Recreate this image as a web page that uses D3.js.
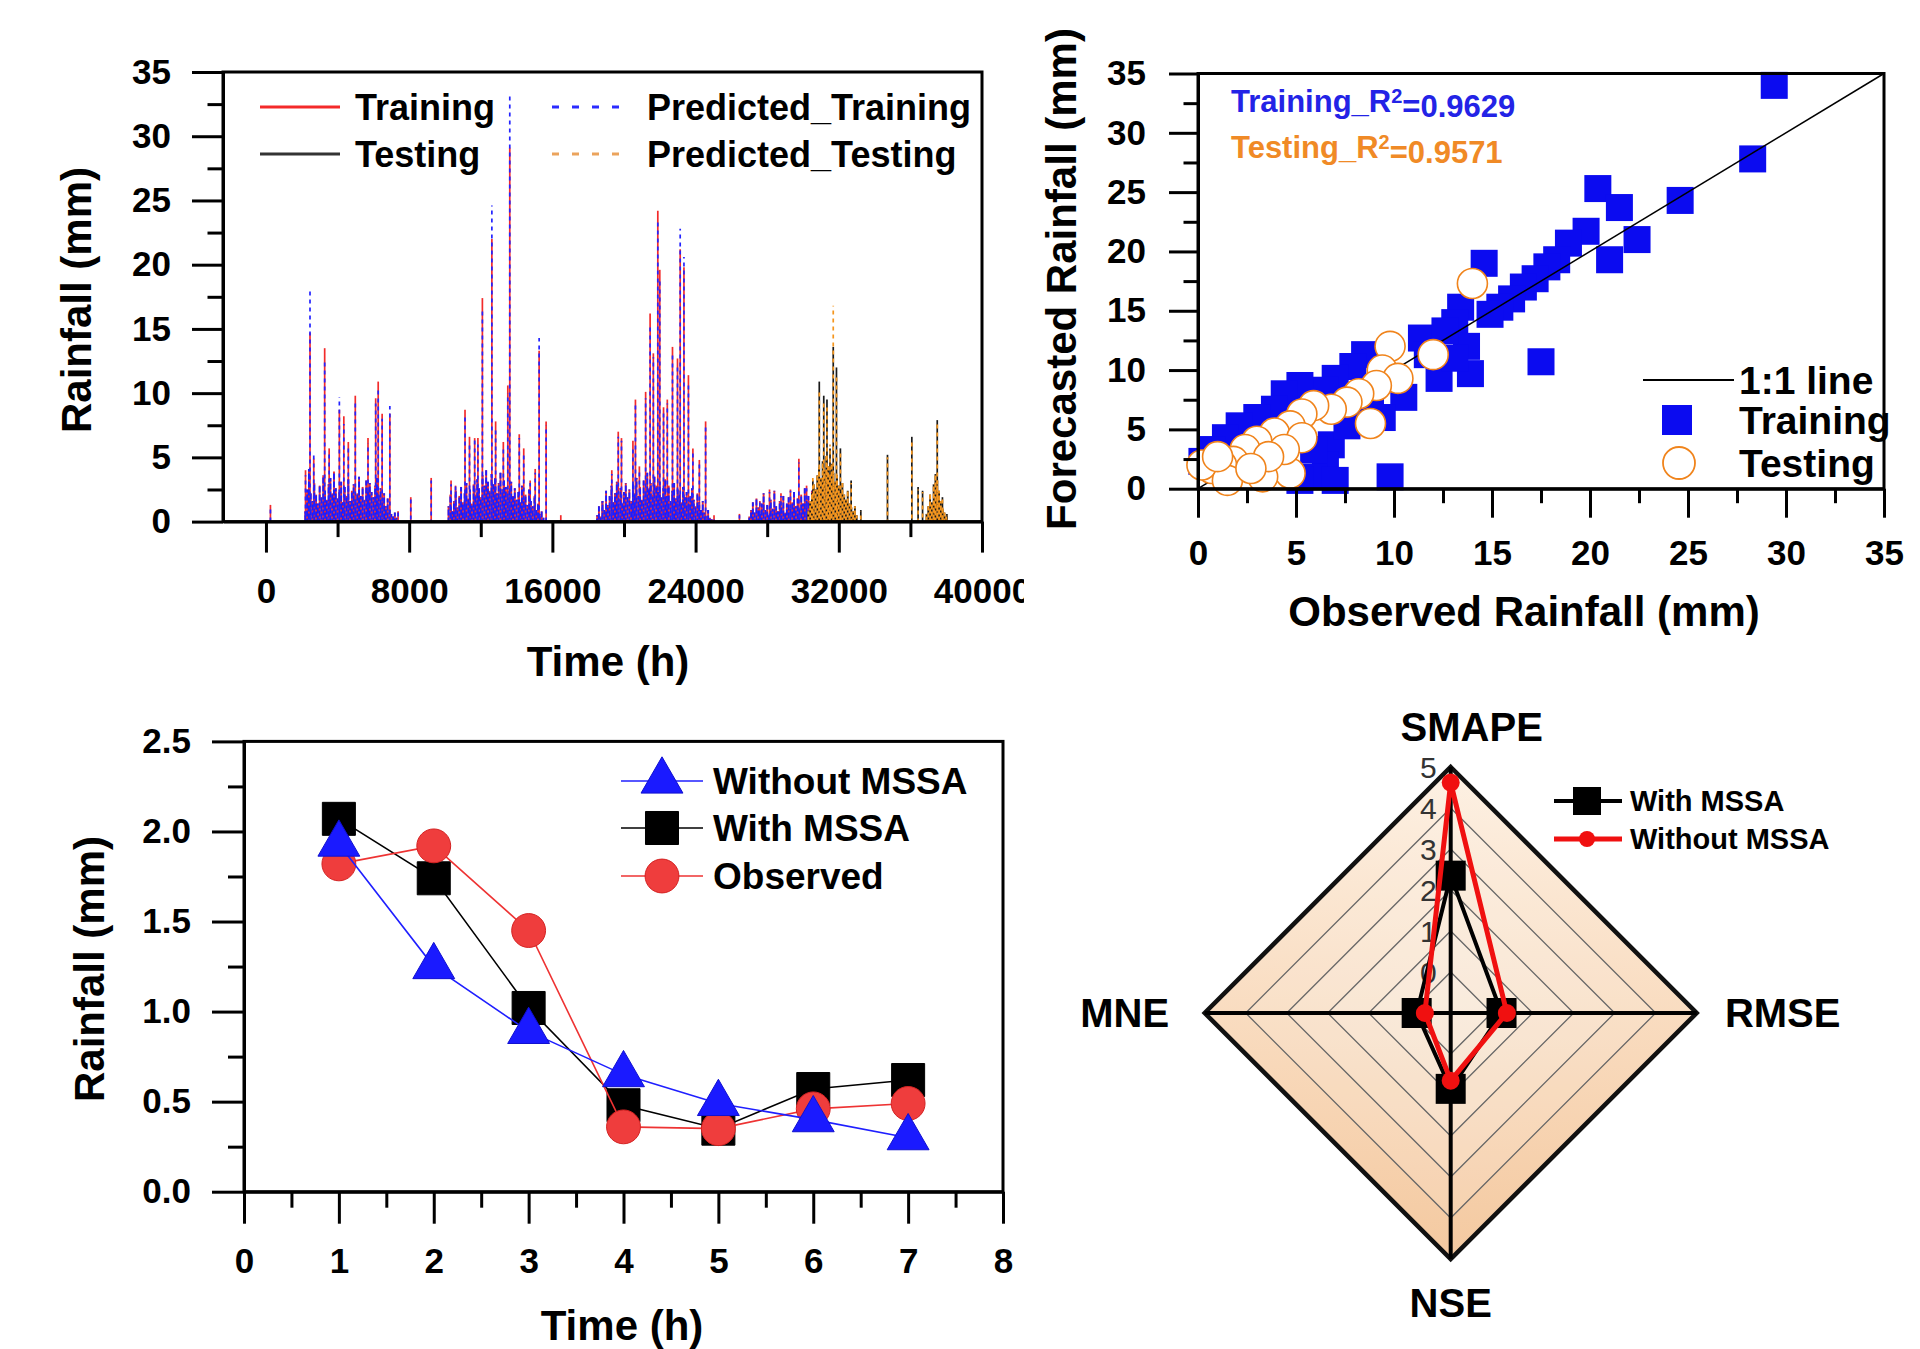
<!DOCTYPE html>
<html>
<head>
<meta charset="utf-8">
<script src="https://cdn.jsdelivr.net/npm/d3@7"></script>
<style>
body { margin: 0; background: #fff; }
svg text { font-family: 'Liberation Sans', Arial, sans-serif; font-weight: bold; fill: #000; }
</style>
</head>
<body>
<svg id="fig" width="1920" height="1349"></svg>
<script>
// ---- panel a : hourly rainfall series ----
// prominent spikes: [hour, observed, predicted]
var trainSpikes = [
	[250, 1.3, 1.2], [2210, 4.0, 3.6], [2460, 14.7, 18.2], [2670, 4.9, 5.2], [3280, 13.5, 12.6],
	[3530, 5.7, 5.3], [4100, 8.7, 9.7], [4350, 8.2, 7.6], [4600, 6.2, 5.8], [4990, 9.8, 9.2],
	[5700, 6.5, 6.1], [6130, 9.6, 9.2], [6270, 10.9, 10.2], [6490, 8.4, 8.0], [6920, 8.4, 9.0],
	[7380, 0.8, 0.7], [8090, 1.9, 1.8], [9230, 3.4, 3.2], [10340, 3.2, 2.9], [10590, 2.8, 3.0],
	[11120, 8.7, 8.3], [11370, 6.6, 6.2], [11660, 6.5, 6.4], [11840, 6.5, 6.0], [12090, 17.4, 16.6],
	[12620, 22.0, 24.6], [12830, 7.8, 7.1], [13260, 6.2, 5.9], [13510, 10.6, 10.0], [13620, 29.1, 33.3],
	[14150, 6.8, 6.5], [14400, 5.7, 5.4], [14760, 3.2, 3.0], [15040, 4.1, 3.8], [15260, 13.3, 14.3],
	[15650, 7.8, 7.5], [16470, 0.5, 0.4], [18790, 1.6, 1.5], [19320, 4.0, 3.7], [19680, 7.0, 6.6],
	[19860, 6.5, 6.3], [20500, 6.3, 5.9], [20640, 9.5, 9.1], [20860, 4.3, 4.1], [21210, 10.1, 9.6],
	[21460, 16.2, 15.4], [21640, 13.1, 12.8], [21890, 24.2, 23.5], [22000, 19.6, 18.9], [22210, 8.9, 8.5],
	[22420, 9.5, 9.2], [22710, 13.6, 13.0], [22990, 12.7, 12.1], [23140, 21.2, 22.8], [23350, 19.8, 20.6],
	[23600, 11.4, 10.8], [23850, 5.7, 5.5], [24210, 4.8, 4.6], [24560, 7.8, 7.4], [25030, 0.5, 0.4],
	[26450, 0.6, 0.5], [27590, 1.6, 1.5], [28130, 2.5, 2.3], [28770, 2.2, 2.0], [29300, 2.5, 2.4],
	[29770, 4.9, 4.6], [30200, 2.8, 2.6]
]
var testSpikes = [
	[30550, 3.2, 3.4], [30910, 10.9, 10.2], [31160, 9.8, 9.3], [31340, 9.5, 9.0], [31510, 5.7, 6.0],
	[31690, 13.6, 16.8], [31870, 12.0, 11.4], [32090, 5.7, 5.4], [32690, 3.2, 3.0], [33230, 0.9, 0.8],
	[34720, 5.2, 5.0], [36080, 6.6, 6.3], [36430, 2.7, 2.5], [36680, 2.4, 2.3], [37330, 2.2, 2.0],
	[37500, 7.9, 7.6], [37790, 1.9, 1.8], [38040, 0.6, 0.5]
]
// dense low rainfall between the spikes, one value every baseStep hours
var baseStep = 100
var trainBaseStarts = [2200, 10200, 18500, 27000]
var trainBaseA = [0.8, 2.5, 4.1, 2.2, 1.6, 3.0, 2.1, 1.4, 2.8, 1.9, 3.6, 2.4, 1.7, 2.9, 3.4, 2.2, 3.9, 2.6, 1.8, 2.3, 3.1, 1.5, 2.7, 2.0, 3.3, 1.6, 2.4, 2.9, 1.8, 2.2, 3.5, 2.0, 2.7, 1.7, 3.2, 2.5, 3.0, 2.3, 1.9, 2.8, 3.4, 2.1, 2.6, 1.5, 2.2, 1.2, 1.8, 0.9, 0.6, 0.4, 0.7, 0.3]
var trainBaseB = [1.2, 2.1, 0.8, 1.6, 2.4, 1.1, 2.0, 2.7, 1.5, 2.2, 3.0, 1.8, 2.5, 1.4, 2.9, 2.1, 3.3, 2.6, 1.9, 3.6, 2.8, 4.0, 3.1, 2.4, 3.7, 2.9, 3.4, 2.2, 3.0, 3.8, 2.5, 3.2, 2.7, 1.9, 2.4, 3.1, 2.0, 2.6, 1.7, 2.3, 1.5, 2.8, 1.8, 2.1, 1.3, 2.5, 1.6, 1.2, 2.0, 0.9, 1.4, 0.6, 0.8, 0.3]
var trainBaseC = [0.5, 1.2, 0.4, 1.6, 0.9, 2.4, 1.3, 2.0, 2.8, 1.5, 2.2, 3.1, 1.8, 2.6, 1.4, 2.3, 3.0, 1.9, 2.5, 1.6, 2.9, 2.2, 3.4, 2.0, 2.7, 1.7, 3.2, 2.4, 3.8, 2.6, 3.0, 2.1, 3.5, 2.8, 2.3, 3.1, 1.9, 2.6, 3.3, 2.0, 2.8, 1.6, 2.4, 3.0, 1.8, 2.5, 2.1, 1.5, 2.7, 1.9, 2.3, 1.4, 2.0, 2.6, 1.7, 1.2, 2.2, 1.5, 0.9, 1.6, 0.7, 0.4, 0.9, 0.3, 0.2]
var trainBaseD = [0.4, 0.9, 1.5, 0.7, 1.8, 1.1, 0.6, 1.4, 2.2, 0.9, 1.3, 0.5, 1.7, 1.0, 2.4, 1.2, 0.8, 1.6, 1.1, 2.0, 0.7, 1.4, 1.9, 1.0, 1.5, 2.3, 1.2, 1.8, 1.0, 2.1, 1.4, 2.6, 1.6, 2.0, 1.3, 2.4]
var testBaseStarts = [30300, 36900]
var testBaseE = [0.8, 1.6, 2.2, 2.9, 2.5, 3.6, 4.2, 3.4, 4.7, 4.0, 5.1, 4.3, 3.5, 4.5, 3.8, 3.1, 3.6, 2.8, 2.3, 3.0, 2.1, 1.7, 2.4, 1.4, 1.1, 0.8, 1.2, 0.5]
var testBaseF = [0.6, 1.2, 2.1, 1.5, 2.9, 3.7, 3.2, 2.4, 1.6, 1.0, 0.7, 0.4]
var p1XTicks = [0, 8000, 16000, 24000, 32000, 40000]
var p1XMinor = [4000, 12000, 20000, 28000, 36000]
var p1YTicks = [0, 5, 10, 15, 20, 25, 30, 35]
var p1YMinor = [2.5, 7.5, 12.5, 17.5, 22.5, 27.5, 32.5]

// ---- panel b : observed vs forecasted ----
var trainPairs = [
	[29.4, 34.0], [28.3, 27.8], [24.6, 24.3], [20.4, 25.3], [21.5, 23.7], [22.4, 21.0], [21.0, 19.3],
	[19.8, 21.7], [18.9, 20.7], [18.3, 19.3], [17.8, 18.7], [17.2, 17.7], [16.6, 17.0], [16.0, 16.0],
	[15.4, 15.3], [14.6, 19.0], [14.9, 14.7], [13.4, 15.3], [13.1, 14.0], [13.7, 12.0], [13.9, 9.7],
	[12.3, 9.3], [13.1, 11.0], [17.5, 10.7], [11.4, 12.7], [10.5, 7.7], [9.9, 9.3], [8.5, 11.3],
	[7.9, 10.3], [7.0, 9.3], [6.5, 8.3], [5.2, 8.7], [4.4, 8.0], [3.9, 6.7], [3.0, 6.0], [2.1, 5.3],
	[1.4, 4.3], [0.7, 3.3], [0.2, 2.3], [6.8, 3.7], [6.5, 2.0], [5.9, 1.0], [7.0, 0.7], [9.8, 1.0],
	[5.2, 0.7], [5.9, 3.3], [7.6, 5.3], [8.8, 7.3], [9.4, 6.0], [11.7, 11.3], [12.6, 13.3]
]
var testPairs = [
	[14.0, 17.3], [9.8, 12.0], [12.0, 11.3], [9.4, 10.0], [10.2, 9.3], [9.1, 8.7], [8.2, 8.0],
	[7.6, 7.3], [6.8, 6.7], [5.9, 7.0], [5.3, 6.3], [4.7, 5.3], [8.8, 5.5], [3.9, 4.7], [3.0, 4.0],
	[2.4, 3.3], [1.8, 2.3], [1.2, 2.0], [0.7, 1.7], [0.2, 2.0], [4.7, 1.3], [3.3, 1.0], [1.5, 0.7],
	[5.3, 4.3], [4.4, 3.3], [3.6, 2.7], [2.7, 1.7], [1.0, 2.7]
]
var p2Ticks = [0, 5, 10, 15, 20, 25, 30, 35]
var p2Minor = [2.5, 7.5, 12.5, 17.5, 22.5, 27.5, 32.5]

// ---- panel c : multi-step forecast ----
var hours = [1, 2, 3, 4, 5, 6, 7]
var withoutMSSA = [1.93, 1.25, 0.89, 0.65, 0.49, 0.40, 0.30]
var withMSSA = [2.07, 1.74, 1.02, 0.48, 0.35, 0.57, 0.62]
var observed = [1.82, 1.92, 1.45, 0.36, 0.35, 0.46, 0.49]
var p3XTicks = [0, 1, 2, 3, 4, 5, 6, 7, 8]
var p3XMinor = [0.5, 1.5, 2.5, 3.5, 4.5, 5.5, 6.5, 7.5]
var p3YTicks = [0, 0.5, 1.0, 1.5, 2.0, 2.5]
var p3YMinor = [0.25, 0.75, 1.25, 1.75, 2.25]

// ---- panel d : radar of error metrics ----
var radarAxes = ['SMAPE', 'RMSE', 'NSE', 'MNE']
var radarWith = [2.35, 0.24, 0.85, -0.17]
var radarWithout = [4.62, 0.37, 0.65, -0.37]
var radarTicks = [0, 1, 2, 3, 4, 5]
var radarGrid = [0, 1, 2, 3, 4]


var svg = d3.select('#fig')
var defs = svg.append('defs')

function addAxes(g, xs, ys, o) {
	var xb = ys.range()[0]
	var yl = xs.range()[0]
	g.append('g').attr('transform', 'translate(0,' + xb + ')')
		.call(d3.axisBottom(xs).tickValues(o.xMajor).tickSize(o.tick).tickSizeOuter(0).tickPadding(o.xPad).tickFormat(o.xFmt))
	g.append('g').attr('class', 'minor').attr('transform', 'translate(0,' + xb + ')')
		.call(d3.axisBottom(xs).tickValues(o.xMinor).tickSize(o.tick / 2).tickSizeOuter(0).tickFormat(''))
	g.append('g').attr('transform', 'translate(' + yl + ',0)')
		.call(d3.axisLeft(ys).tickValues(o.yMajor).tickSize(o.tick).tickSizeOuter(0).tickPadding(o.yPad).tickFormat(o.yFmt))
	g.append('g').attr('class', 'minor').attr('transform', 'translate(' + yl + ',0)')
		.call(d3.axisLeft(ys).tickValues(o.yMinor).tickSize(o.tick / 2).tickSizeOuter(0).tickFormat(''))
	g.selectAll('.minor .domain').remove()
	g.selectAll('.tick line, .domain').attr('stroke', '#000').attr('stroke-width', 3)
	g.selectAll('.tick text').attr('font-size', 35).attr('fill', '#000')
	g.append('rect')
		.attr('x', yl).attr('y', ys.range()[1])
		.attr('width', xs.range()[1] - yl).attr('height', xb - ys.range()[1])
		.attr('fill', 'none').attr('stroke', '#000').attr('stroke-width', 3)
}

function addTitle(g, txt, x, y, rotate) {
	g.append('text')
		.attr('transform', 'translate(' + x + ',' + y + ')' + (rotate ? ' rotate(-90)' : ''))
		.attr('text-anchor', 'middle').attr('dy', '0.35em')
		.attr('font-size', 42)
		.text(txt)
}

// ================= panel a =================
defs.append('clipPath').attr('id', 'clipA')
	.append('rect').attr('x', 0).attr('y', 0).attr('width', 1024).attr('height', 700)
var g1 = svg.append('g').attr('clip-path', 'url(#clipA)')
var x1 = d3.scaleLinear().domain([-2400, 40000]).range([223, 982])
var y1 = d3.scaleLinear().domain([0, 35]).range([521.6, 72])

function baseRows(starts, lists) {
	var rows = []
	lists.forEach(function(vals, k) {
		vals.forEach(function(v, i) { rows.push([starts[k] + i * baseStep, v, v]) })
	})
	return rows
}
var trainBase = baseRows(trainBaseStarts, [trainBaseA, trainBaseB, trainBaseC, trainBaseD])
var testBase = baseRows(testBaseStarts, [testBaseE, testBaseF])

function drawSpikes(g, rows, col, color, width, dash) {
	g.append('g').selectAll('line').data(rows)
		.enter().append('line')
			.attr('x1', function(d) { return x1(d[0]) })
			.attr('x2', function(d) { return x1(d[0]) })
			.attr('y1', y1(0))
			.attr('y2', function(d) { return y1(d[col]) })
			.attr('stroke', color)
			.attr('stroke-width', width)
			.attr('stroke-dasharray', dash)
			// stagger the dash pattern so the overlay does not form bands
			.attr('stroke-dashoffset', function(d, i) { return (i * 3) % 7 })
}
drawSpikes(g1, trainBase, 1, '#f22b2b', 1.9, null)
drawSpikes(g1, trainSpikes, 1, '#f22b2b', 1.7, null)
drawSpikes(g1, trainBase, 2, '#1c1cff', 1.9, '6,2')
drawSpikes(g1, trainSpikes, 2, '#2323ff', 1.7, '4,4')
drawSpikes(g1, testBase, 1, '#1a1a1a', 1.9, null)
drawSpikes(g1, testSpikes, 1, '#1a1a1a', 1.7, null)
drawSpikes(g1, testBase, 2, '#f5961e', 1.9, '5,2')
drawSpikes(g1, testSpikes, 2, '#f5961e', 1.7, '4,4')

addAxes(g1, x1, y1, {
	xMajor: p1XTicks, xMinor: p1XMinor, yMajor: p1YTicks, yMinor: p1YMinor,
	tick: 31, xPad: 26, yPad: 21, xFmt: d3.format('d'), yFmt: d3.format('d')
})
addTitle(g1, 'Rainfall (mm)', 76, 300, true)
addTitle(g1, 'Time (h)', 608, 661, false)

var leg1 = [
	{ label: 'Training', color: '#f42a2a', dash: null, x: 260, y: 107 },
	{ label: 'Testing', color: '#333', dash: null, x: 260, y: 154 },
	{ label: 'Predicted_Training', color: '#2b2bff', dash: '7,13', x: 552, y: 107 },
	{ label: 'Predicted_Testing', color: '#eba35c', dash: '7,13', x: 552, y: 154 }
]
leg1.forEach(function(l) {
	g1.append('line')
		.attr('x1', l.x).attr('x2', l.x + 80).attr('y1', l.y).attr('y2', l.y)
		.attr('stroke', l.color).attr('stroke-width', 3).attr('stroke-dasharray', l.dash)
	g1.append('text')
		.attr('x', l.x + 95).attr('y', l.y).attr('dy', '0.35em')
		.attr('font-size', 36)
		.text(l.label)
})

// ================= panel b =================
var g2 = svg.append('g')
var x2 = d3.scaleLinear().domain([0, 35]).range([1198, 1884])
var y2 = d3.scaleLinear().domain([0, 35]).range([488.7, 73.5])
var sq = 27
g2.append('g').selectAll('rect').data(trainPairs)
	.enter().append('rect')
		.attr('x', function(d) { return x2(d[0]) - sq / 2 })
		.attr('y', function(d) { return y2(d[1]) - sq / 2 })
		.attr('width', sq).attr('height', sq)
		.attr('fill', '#0b0bf0')
g2.append('line')
	.attr('x1', x2(0)).attr('y1', y2(0)).attr('x2', x2(35)).attr('y2', y2(35))
	.attr('stroke', '#000').attr('stroke-width', 1.5)
g2.append('g').selectAll('circle').data(testPairs)
	.enter().append('circle')
		.attr('cx', function(d) { return x2(d[0]) })
		.attr('cy', function(d) { return y2(d[1]) })
		.attr('r', 15)
		.attr('fill', '#fff')
		.attr('stroke', '#f0841c')
		.attr('stroke-width', 1.6)

addAxes(g2, x2, y2, {
	xMajor: p2Ticks, xMinor: p2Minor, yMajor: p2Ticks, yMinor: p2Minor,
	tick: 29, xPad: 22, yPad: 23, xFmt: d3.format('d'), yFmt: d3.format('d')
})
addTitle(g2, 'Forecasted Rainfall (mm)', 1061, 279, true)
addTitle(g2, 'Observed Rainfall (mm)', 1524, 611, false)

var ann = [
	{ pre: 'Training_R', post: '=0.9629', color: '#2323e6', y: 101 },
	{ pre: 'Testing_R', post: '=0.9571', color: '#f08a26', y: 147 }
]
ann.forEach(function(a) {
	var t = g2.append('text').attr('x', 1231).attr('y', a.y).attr('dy', '0.35em')
		.attr('font-size', 31).style('fill', a.color)
	t.append('tspan').text(a.pre)
	t.append('tspan').attr('dy', '-0.45em').attr('font-size', 20).text('2')
	t.append('tspan').attr('dy', '0.45em').text(a.post)
})

g2.append('line').attr('x1', 1643).attr('x2', 1734).attr('y1', 380).attr('y2', 380)
	.attr('stroke', '#000').attr('stroke-width', 1.8)
g2.append('rect').attr('x', 1677 - 15).attr('y', 420 - 15).attr('width', 30).attr('height', 30)
	.attr('fill', '#0b0bf0')
g2.append('circle').attr('cx', 1679).attr('cy', 463).attr('r', 16)
	.attr('fill', '#fff').attr('stroke', '#f0841c').attr('stroke-width', 1.8)
var leg2 = [['1:1 line', 380], ['Training', 420], ['Testing', 463]]
leg2.forEach(function(l) {
	g2.append('text').attr('x', 1739).attr('y', l[1]).attr('dy', '0.35em')
		.attr('font-size', 39).text(l[0])
})

// ================= panel c =================
var g3 = svg.append('g')
var x3 = d3.scaleLinear().domain([0, 8]).range([244, 1003])
var y3 = d3.scaleLinear().domain([0, 2.5]).range([1191.7, 741.4])

var series3 = [
	{ name: 'With MSSA', vals: withMSSA, line: '#000', fill: '#000', stroke: '#000', sym: d3.symbolSquare, size: 1090, ly: 828 },
	{ name: 'Observed', vals: observed, line: '#ee3333', fill: '#ef3d3d', stroke: '#d42222', sym: d3.symbolCircle, size: 900, ly: 876 },
	{ name: 'Without MSSA', vals: withoutMSSA, line: '#1f1fff', fill: '#1a1aff', stroke: '#1010d0', sym: d3.symbolTriangle, size: 760, ly: 781 }
]
var line3 = d3.line()
	.x(function(d, i) { return x3(hours[i]) })
	.y(function(d) { return y3(d) })
series3.forEach(function(s) {
	g3.append('path').attr('d', line3(s.vals))
		.attr('fill', 'none').attr('stroke', s.line).attr('stroke-width', 1.6)
	g3.append('g').selectAll('path').data(s.vals)
		.enter().append('path')
			.attr('transform', function(d, i) { return 'translate(' + x3(hours[i]) + ',' + y3(d) + ')' })
			.attr('d', d3.symbol().type(s.sym).size(s.size))
			.attr('fill', s.fill).attr('stroke', s.stroke).attr('stroke-width', 1)
	g3.append('line').attr('x1', 621).attr('x2', 703).attr('y1', s.ly).attr('y2', s.ly)
		.attr('stroke', s.line).attr('stroke-width', 1.6)
	g3.append('path').attr('transform', 'translate(662,' + s.ly + ')')
		.attr('d', d3.symbol().type(s.sym).size(s.size))
		.attr('fill', s.fill).attr('stroke', s.stroke).attr('stroke-width', 1)
	g3.append('text').attr('x', 713).attr('y', s.ly).attr('dy', '0.35em')
		.attr('font-size', 37).text(s.name)
})

addAxes(g3, x3, y3, {
	xMajor: p3XTicks, xMinor: p3XMinor, yMajor: p3YTicks, yMinor: p3YMinor,
	tick: 32, xPad: 24, yPad: 21, xFmt: d3.format('d'), yFmt: d3.format('.1f')
})
addTitle(g3, 'Rainfall (mm)', 89, 969, true)
addTitle(g3, 'Time (h)', 622, 1325, false)

// ================= panel d =================
var g4 = svg.append('g')
var cx = 1450.7, cy = 1013
var rScale = d3.scaleLinear().domain([-1, 5]).range([0, 246])
function radarPoint(v, i) {
	var a = -Math.PI / 2 + i * Math.PI / 2
	return [cx + rScale(v) * Math.cos(a), cy + rScale(v) * Math.sin(a)]
}
function ring(v) {
	return radarAxes.map(function(d, i) { return radarPoint(v, i) })
}
var fillGrad = defs.append('linearGradient').attr('id', 'radarFill')
	.attr('gradientUnits', 'userSpaceOnUse')
	.attr('x1', 0).attr('x2', 0).attr('y1', cy - rScale(5)).attr('y2', cy + rScale(5))
fillGrad.append('stop').attr('offset', 0).attr('stop-color', '#fdf1e4')
fillGrad.append('stop').attr('offset', 0.5).attr('stop-color', '#f9dcc0')
fillGrad.append('stop').attr('offset', 1).attr('stop-color', '#f4c9a0')

var radarLine = d3.line().curve(d3.curveLinearClosed)
g4.append('path').attr('d', radarLine(ring(5))).attr('fill', 'url(#radarFill)')
g4.append('g').selectAll('path').data(radarGrid.slice().reverse())
	.enter().append('path')
		.attr('d', function(d) { return radarLine(ring(d)) })
		.attr('fill', '#fff').attr('fill-opacity', 0.12)
		.attr('stroke', '#666').attr('stroke-width', 1.3)
g4.append('path').attr('d', radarLine(ring(5)))
	.attr('fill', 'none').attr('stroke', '#111').attr('stroke-width', 4.5).attr('stroke-linejoin', 'miter')
var top4 = radarPoint(5, 0), right4 = radarPoint(5, 1), bot4 = radarPoint(5, 2), left4 = radarPoint(5, 3)
g4.append('line').attr('x1', top4[0]).attr('y1', top4[1]).attr('x2', bot4[0]).attr('y2', bot4[1])
	.attr('stroke', '#000').attr('stroke-width', 4)
g4.append('line').attr('x1', left4[0]).attr('y1', left4[1]).attr('x2', right4[0]).attr('y2', right4[1])
	.attr('stroke', '#000').attr('stroke-width', 4)

g4.append('g').selectAll('text').data(radarTicks)
	.enter().append('text')
		.attr('x', cx - 14)
		.attr('y', function(d) { return cy - rScale(d) })
		.attr('dy', '0.35em')
		.attr('text-anchor', 'end')
		.attr('font-size', 30)
		.style('font-weight', 'normal')
		.style('fill', '#333')
		.text(function(d) { return d })

g4.append('path').attr('d', radarLine(radarWith.map(radarPoint)))
	.attr('fill', 'none').attr('stroke', '#000').attr('stroke-width', 4)
g4.append('g').selectAll('rect').data(radarWith)
	.enter().append('rect')
		.attr('x', function(d, i) { return radarPoint(d, i)[0] - 15 })
		.attr('y', function(d, i) { return radarPoint(d, i)[1] - 15 })
		.attr('width', 30).attr('height', 30).attr('fill', '#000')
g4.append('path').attr('d', radarLine(radarWithout.map(radarPoint)))
	.attr('fill', 'none').attr('stroke', '#f01010').attr('stroke-width', 5).attr('stroke-linejoin', 'round')
g4.append('g').selectAll('circle').data(radarWithout)
	.enter().append('circle')
		.attr('cx', function(d, i) { return radarPoint(d, i)[0] })
		.attr('cy', function(d, i) { return radarPoint(d, i)[1] })
		.attr('r', 9).attr('fill', '#f01010')

var labelOffsets = [[21, -40], [86, 0], [0, 44], [-80, 0]]
radarAxes.forEach(function(name, i) {
	var p = radarPoint(5, i)
	g4.append('text')
		.attr('x', p[0] + labelOffsets[i][0]).attr('y', p[1] + labelOffsets[i][1])
		.attr('dy', '0.35em').attr('text-anchor', 'middle')
		.attr('font-size', 40).text(name)
})

var leg4 = [
	{ label: 'With MSSA', color: '#000', w: 4, y: 801, square: true },
	{ label: 'Without MSSA', color: '#f01010', w: 5, y: 839, square: false }
]
leg4.forEach(function(l) {
	g4.append('line').attr('x1', 1554).attr('x2', 1622).attr('y1', l.y).attr('y2', l.y)
		.attr('stroke', l.color).attr('stroke-width', l.w)
	if (l.square) {
		g4.append('rect').attr('x', 1587 - 14).attr('y', l.y - 14).attr('width', 28).attr('height', 28).attr('fill', l.color)
	} else {
		g4.append('circle').attr('cx', 1587).attr('cy', l.y).attr('r', 8).attr('fill', l.color)
	}
	g4.append('text').attr('x', 1630).attr('y', l.y).attr('dy', '0.35em')
		.attr('font-size', 29).text(l.label)
})
</script>
</body>
</html>
